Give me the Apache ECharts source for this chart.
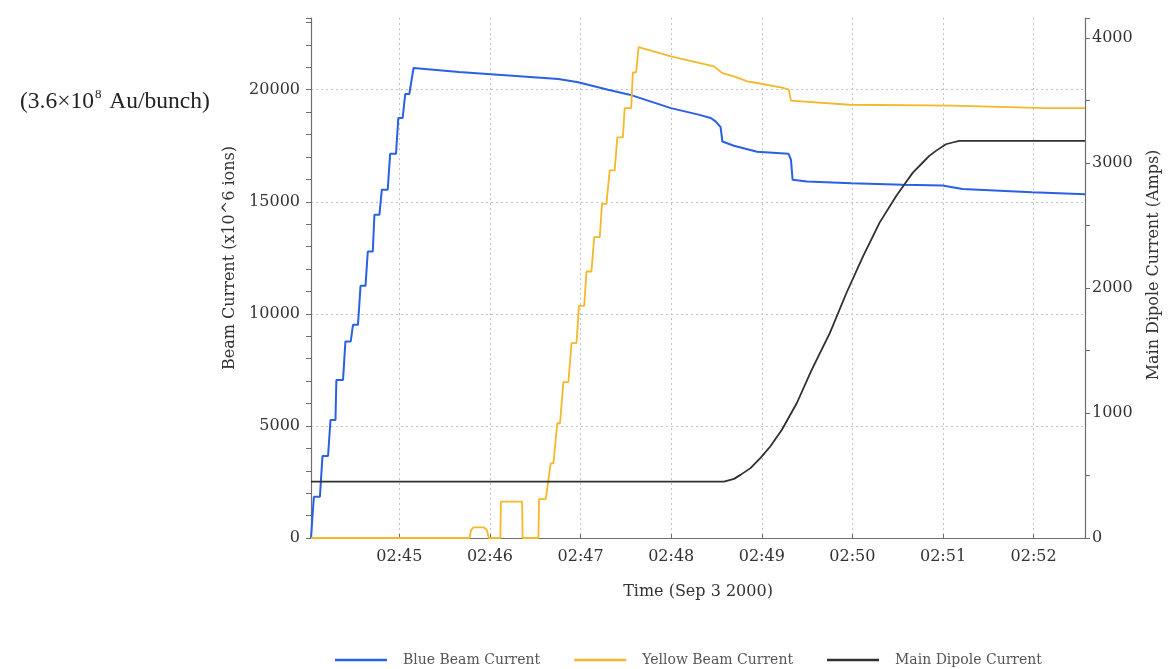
<!DOCTYPE html>
<html><head><meta charset="utf-8">
<script src="https://cdn.jsdelivr.net/npm/echarts@6/dist/echarts.min.js"></script>
<style>html,body{margin:0;padding:0;background:#fff}#chart{width:1170px;height:669px}</style>
</head><body><div id="chart"></div>
<script>
// Time base: Sep 3 2000, 02:44:00 (seconds offsets below)
const baseTime = Date.UTC(2000, 8, 3, 2, 44, 0);
const xMinSec = 1.5;
const xMaxSec = 514;

const blueSec = [1.5,1.9,3.4,7.4,9.1,12.8,14.4,17.7,18.3,22.7,24.3,27.8,29.3,32.6,34.3,37.6,39.1,42.4,43.5,46.8,48.4,52.3,53.9,57.8,59.3,62.2,63.9,66.6,69.4,99.5,165.3,178.4,198.2,212.5,239.8,257.4,266.2,269.4,272.7,273.9,281.5,296.9,317.7,319.3,320.4,329.8,359.4,393.4,419.7,432.9,478.9,514];
const blueVal = [0,0,1840,1840,3660,3660,5270,5270,7050,7050,8770,8770,9510,9510,11250,11250,12780,12780,14420,14420,15540,15540,17140,17140,18740,18740,19810,19810,20970,20790,20480,20330,20000,19780,19180,18900,18740,18590,18330,17690,17500,17230,17140,16880,15980,15910,15830,15760,15730,15570,15430,15340];

const yellowSec = [1.5,106.5,107.5,109,116,118,119.2,126.9,127.2,141.3,141.6,152.1,152.5,156.9,160.2,162,164.6,166.4,168.6,171.9,174,177.3,178.9,182.4,183.9,187.2,189,192.7,194.2,197.1,199.3,202.6,204.3,208,209.2,213.5,214.6,216.8,218.4,239.8,268.4,273.9,282.6,290.3,296.9,313.3,317.9,319.3,358.1,426.3,487.7,514];
const yellowVal = [0,0,350,470,470,350,0,0,1620,1620,0,0,1730,1730,3330,3330,5120,5120,6950,6950,8690,8690,10360,10360,11890,11890,13420,13420,14910,14910,16400,16400,17870,17870,19180,19180,20770,20770,21900,21490,21040,20740,20570,20370,20300,20090,20000,19510,19330,19290,19180,19180];

const dipoleSec = [1.5,275,281.6,285.9,292.5,299,305.6,313.3,323.2,333.1,345.1,356.1,367.1,378,389,394.5,400,406.6,410.9,415.3,421.9,426.3,430.7,514];
const dipoleVal = [451,451,473,505,559,639,732,866,1080,1347,1641,1962,2255,2523,2736,2830,2923,3004,3057,3097,3150,3164,3177,3177];

const seriesNames = ['Blue Beam Current', 'Yellow Beam Current', 'Main Dipole Current'];
const leftAxisTitle = 'Beam Current (x10^6 ions)';
const rightAxisTitle = 'Main Dipole Current (Amps)';
const xAxisTitle = 'Time (Sep 3 2000)';

function toPairs(secs, vals) { return secs.map((s, i) => [baseTime + s * 1000, vals[i]]); }
function pad(n) { return (n < 10 ? '0' : '') + n; }

const serif = 'DejaVu Serif';
const gridColor = '#c4c4c4';
const axisColor = '#6e6e6e';
const chart = echarts.init(document.getElementById('chart'), null, { renderer: 'canvas' });
chart.setOption({
  useUTC: true,
  animation: false,
  backgroundColor: '#ffffff',
  title: {
    text: '{a|(3.6×10}{s|8}{a| Au/bunch)}',
    left: 15, top: 83,
    textStyle: {
      fontWeight: 'normal',
      rich: {
        a: { fontFamily: 'Liberation Serif', fontSize: 23.5, fontWeight: 'normal', color: '#222', lineHeight: 28 },
        s: { fontFamily: 'Liberation Serif', fontSize: 13, fontWeight: 'normal', color: '#222', verticalAlign: 'top', lineHeight: 28, padding: [0, 2, 0, 1] }
      }
    }
  },
  grid: { left: 311, right: 80, top: 18, bottom: 131, containLabel: false },
  legend: {
    left: 330, top: 648,
    icon: 'rect',
    itemWidth: 52, itemHeight: 2.5, itemGap: 34,
    textStyle: { fontFamily: serif, fontSize: 14, color: '#555', padding: [0, 0, 0, 11] },
    data: seriesNames
  },
  xAxis: {
    type: 'time',
    min: baseTime + xMinSec * 1000,
    max: baseTime + xMaxSec * 1000,
    minInterval: 60000, maxInterval: 60000,
    name: xAxisTitle, nameLocation: 'middle', nameGap: 46,
    nameTextStyle: { fontFamily: serif, fontSize: 16, color: '#333' },
    axisLine: { lineStyle: { color: axisColor, width: 1.2 } },
    axisTick: { show: true, inside: true, length: 4, lineStyle: { color: axisColor } },
    axisLabel: {
      fontFamily: serif, fontSize: 16, color: '#333', margin: 11,
      hideOverlap: false,
      formatter: function (v) {
        const d = new Date(v);
        if (d.getUTCSeconds() !== 0 || d.getUTCMilliseconds() !== 0) return '';
        return pad(d.getUTCHours()) + ':' + pad(d.getUTCMinutes());
      }
    },
    splitLine: { show: true, lineStyle: { color: gridColor, type: [2, 3], width: 1 } }
  },
  yAxis: [
    {
      type: 'value', min: 0, max: 23200, interval: 5000, position: 'left',
      name: leftAxisTitle, nameLocation: 'middle', nameGap: 69, nameRotate: 90,
      nameTextStyle: { fontFamily: serif, fontSize: 16, color: '#333', padding: [0, 0, 0, 40] },
      axisLine: { show: true, lineStyle: { color: axisColor, width: 1.2 } },
      axisTick: { show: true, length: 5, lineStyle: { color: axisColor } },
      minorTick: { show: true, splitNumber: 5, length: 5, lineStyle: { color: axisColor } },
      axisLabel: { fontFamily: serif, fontSize: 16, color: '#333', margin: 11, showMaxLabel: false, formatter: function (v) { return String(v); } },
      splitLine: { show: true, lineStyle: { color: [gridColor, gridColor, gridColor, gridColor, gridColor, 'rgba(0,0,0,0)'], type: [2, 3], width: 1 } }
    },
    {
      type: 'value', min: 0, max: 4160, interval: 1000, position: 'right',
      name: rightAxisTitle, nameLocation: 'middle', nameGap: 61, nameRotate: 90,
      nameTextStyle: { fontFamily: serif, fontSize: 16, color: '#333', padding: [0, 0, 0, 26] },
      axisLine: { show: true, lineStyle: { color: axisColor, width: 1.2 } },
      axisTick: { show: true, length: 5, lineStyle: { color: axisColor } },
      minorTick: { show: true, splitNumber: 2, length: 5, lineStyle: { color: axisColor } },
      axisLabel: { fontFamily: serif, fontSize: 16, color: '#333', margin: 7, showMaxLabel: false, formatter: function (v) { return String(v); } },
      splitLine: { show: false }
    }
  ],
  series: [
    {
      name: seriesNames[0], type: 'line', yAxisIndex: 0, symbol: 'none',
      data: toPairs(blueSec, blueVal),
      lineStyle: { color: '#2a60e6', width: 2 }, itemStyle: { color: '#2a60e6' }
    },
    {
      name: seriesNames[1], type: 'line', yAxisIndex: 0, symbol: 'none',
      data: toPairs(yellowSec, yellowVal),
      lineStyle: { color: '#f4b82a', width: 1.8 }, itemStyle: { color: '#f4b82a' }
    },
    {
      name: seriesNames[2], type: 'line', yAxisIndex: 1, symbol: 'none',
      data: toPairs(dipoleSec, dipoleVal),
      lineStyle: { color: '#303030', width: 1.8 }, itemStyle: { color: '#303030' }
    }
  ]
});
</script>
</body></html>
